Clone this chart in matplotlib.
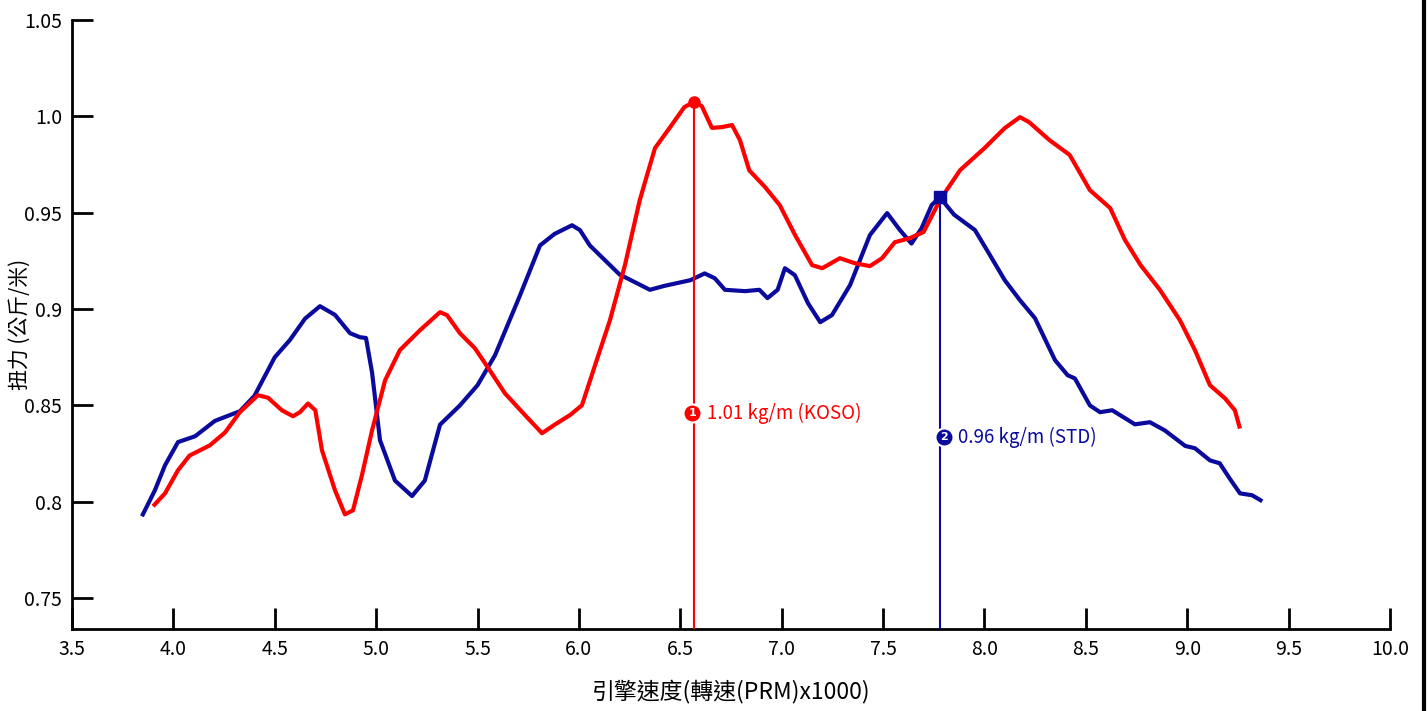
import matplotlib
matplotlib.use('Agg')
import matplotlib.pyplot as plt
from matplotlib.lines import Line2D

plt.rcParams['font.family'] = ['Noto Sans CJK TC', 'DejaVu Sans']

# STD (blue)
std_rpm = [3.845, 3.909, 3.959, 4.023, 4.107, 4.205, 4.328, 4.40, 4.50, 4.575, 4.649, 4.723,
           4.797, 4.871, 4.92, 4.95, 4.98, 5.019, 5.093, 5.177, 5.24, 5.315, 5.413, 5.50,
           5.586, 5.709, 5.808, 5.88, 5.966, 6.005, 6.054, 6.20, 6.35, 6.42, 6.55, 6.62,
           6.67, 6.72, 6.82, 6.89, 6.93, 6.98, 7.016, 7.065, 7.13, 7.19, 7.248, 7.337,
           7.435, 7.52, 7.583, 7.64, 7.69, 7.74, 7.78, 7.85, 7.953, 8.027, 8.10, 8.175,
           8.249, 8.348, 8.41, 8.446, 8.52, 8.57, 8.63, 8.693, 8.742, 8.816, 8.89, 8.99,
           9.038, 9.112, 9.16, 9.21, 9.26, 9.32, 9.37]
std_torque = [0.7925, 0.806, 0.819, 0.831, 0.834, 0.842, 0.847, 0.855, 0.875, 0.884, 0.895, 0.9015,
              0.897, 0.8875, 0.8854, 0.885, 0.867, 0.832, 0.811, 0.803, 0.811, 0.840, 0.850, 0.8605,
              0.876, 0.907, 0.933, 0.939, 0.9435, 0.941, 0.933, 0.918, 0.910, 0.912, 0.915, 0.9185,
              0.916, 0.910, 0.9093, 0.910, 0.9057, 0.910, 0.9212, 0.9176, 0.903, 0.8932, 0.8969, 0.9124,
              0.9384, 0.9498, 0.941, 0.934, 0.942, 0.954, 0.958, 0.949, 0.941, 0.928, 0.915, 0.9046,
              0.8953, 0.8735, 0.8657, 0.864, 0.850, 0.8465, 0.8475, 0.8434, 0.8402, 0.8413, 0.837, 0.829,
              0.8278, 0.8215, 0.820, 0.812, 0.8044, 0.8034, 0.8003]

# KOSO (red)
koso_rpm = [3.90, 3.959, 4.023, 4.08, 4.18, 4.255, 4.328, 4.417, 4.467, 4.535, 4.59, 4.624,
            4.664, 4.70, 4.733, 4.797, 4.846, 4.886, 4.93, 4.98, 5.044, 5.117, 5.216, 5.315,
            5.35, 5.413, 5.487, 5.56, 5.635, 5.734, 5.818, 5.88, 5.956, 6.015, 6.08, 6.153,
            6.227, 6.30, 6.375, 6.45, 6.52, 6.567, 6.606, 6.656, 6.705, 6.755, 6.794, 6.84,
            6.918, 6.99, 7.066, 7.15, 7.2, 7.287, 7.36, 7.435, 7.495, 7.558, 7.632, 7.70,
            7.78, 7.88, 8.0, 8.10, 8.175, 8.22, 8.32, 8.42, 8.52, 8.62, 8.693, 8.77,
            8.865, 8.964, 9.038, 9.112, 9.186, 9.235, 9.26]
koso_torque = [0.7977, 0.8044, 0.8164, 0.824, 0.8293, 0.836, 0.8465, 0.8553, 0.854, 0.8475, 0.8444, 0.8465,
               0.851, 0.8475, 0.8267, 0.806, 0.7935, 0.7956, 0.8138, 0.8371, 0.863, 0.8787, 0.889, 0.8984,
               0.8968, 0.8875, 0.8797, 0.8683, 0.8563, 0.845, 0.8356, 0.840, 0.845, 0.8501, 0.871, 0.8942,
               0.9228, 0.9565, 0.9835, 0.9944, 1.0048, 1.0074, 1.0053, 0.994, 0.9944, 0.9955, 0.9877, 0.972,
               0.9633, 0.954, 0.9384, 0.9228, 0.9212, 0.9264, 0.9238, 0.9223, 0.9264, 0.9347, 0.9368, 0.940,
               0.9565, 0.9721, 0.9835, 0.9939, 0.9996, 0.997, 0.9877, 0.980, 0.9617, 0.9524, 0.9358, 0.9228,
               0.910, 0.8942, 0.8787, 0.8605, 0.8537, 0.8475, 0.838]

koso_peak = (6.567, 1.0074)
std_peak = (7.78, 0.958)
koso_label = '1.01 kg/m (KOSO)'
std_label = '0.96 kg/m (STD)'

xticks = [3.5, 4.0, 4.5, 5.0, 5.5, 6.0, 6.5, 7.0, 7.5, 8.0, 8.5, 9.0, 9.5, 10.0]
xticklabels = ['3.5', '4.0', '4.5', '5.0', '5.5', '6.0', '6.5', '7.0', '7.5', '8.0', '8.5', '9.0', '9.5', '10.0']
yticks = [0.75, 0.8, 0.85, 0.9, 0.95, 1.0, 1.05]
yticklabels = ['0.75', '0.8', '0.85', '0.9', '0.95', '1.0', '1.05']

red = '#ff0000'
blue = '#0a0a9c'

fig = plt.figure(figsize=(14.28, 7.11), dpi=100)
ax = fig.add_axes([0.0504, 0.1153, 0.9230, 0.8566])

ax.plot(std_rpm, std_torque, color=blue, lw=3.0, solid_joinstyle='round', solid_capstyle='butt', zorder=3)
ax.plot(koso_rpm, koso_torque, color=red, lw=3.0, solid_joinstyle='round', solid_capstyle='butt', zorder=4)

ymin = 0.734
# peak markers and drop lines
ax.plot([koso_peak[0], koso_peak[0]], [ymin, koso_peak[1]], color=red, lw=1.5, zorder=5)
ax.plot(koso_peak[0], koso_peak[1], 'o', color=red, ms=8, zorder=6)
ax.plot([std_peak[0], std_peak[0]], [ymin, std_peak[1]], color=blue, lw=1.5, zorder=5)
ax.plot(std_peak[0], std_peak[1], 's', color=blue, ms=9, zorder=6)

# annotation labels
ky = 0.846
sy = 0.8335
ax.plot(koso_peak[0] - 0.008, ky, 'o', color=red, ms=13, mec='white', mew=1.5, zorder=7)
ax.text(koso_peak[0] - 0.008, ky, '1', color='white', fontsize=8, fontweight='bold',
        ha='center', va='center', zorder=8, family='DejaVu Sans')
ax.text(koso_peak[0] + 0.063, ky, koso_label, color=red, fontsize=13.5, ha='left', va='center', zorder=8)

ax.plot(std_peak[0] + 0.018, sy, 'o', color=blue, ms=13, mec='white', mew=1.5, zorder=7)
ax.text(std_peak[0] + 0.018, sy, '2', color='white', fontsize=8, fontweight='bold',
        ha='center', va='center', zorder=8, family='DejaVu Sans')
ax.text(std_peak[0] + 0.09, sy, std_label, color=blue, fontsize=13.5, ha='left', va='center', zorder=8)

ax.set_xlim(3.5, 10.0)
ax.set_ylim(ymin, 1.05)
ax.set_xticks(xticks)
ax.set_xticklabels(xticklabels)
ax.set_yticks(yticks)
ax.set_yticklabels(yticklabels)
ax.tick_params(direction='in', length=15, width=2, labelsize=14, pad=7)

ax.spines['top'].set_visible(False)
ax.spines['right'].set_visible(False)
ax.spines['left'].set_linewidth(2)
ax.spines['bottom'].set_linewidth(2)

ax.set_xlabel('引擎速度(轉速(PRM)x1000)', fontsize=16.5)
ax.xaxis.set_label_coords(0.5, -0.082)
ax.set_ylabel('扭力 (公斤/米)', fontsize=15)
ax.yaxis.set_label_coords(-0.031, 0.5)

# right border of the picture
fig.add_artist(Line2D([0.9972, 0.9972], [0, 1], color='black', lw=3, transform=fig.transFigure))

fig.savefig('out.png', dpi=100)
